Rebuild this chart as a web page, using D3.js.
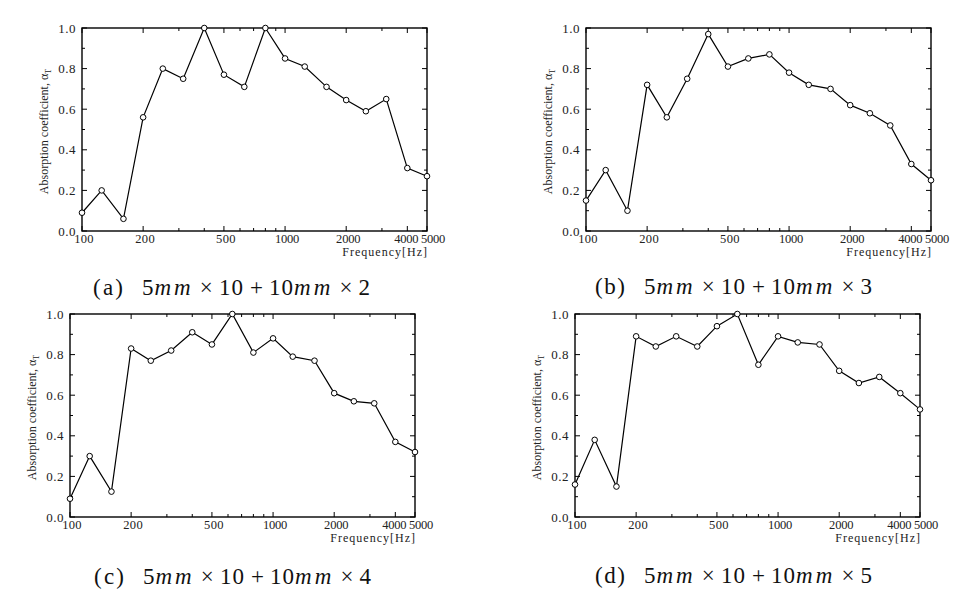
<!DOCTYPE html>
<html>
<head>
<meta charset="utf-8">
<script src="https://cdn.jsdelivr.net/npm/d3@7"></script>
<style>
  body { margin: 0; background: #fff; }
  svg { display: block; }
</style>
</head>
<body>
<script>
'use strict'

// one-third octave band centre frequencies
let freqs = [100, 125, 160, 200, 250, 315, 400, 500, 630, 800, 1000, 1250, 1600, 2000, 2500, 3150, 4000, 5000]

let seriesA = [0.09, 0.20, 0.06, 0.56, 0.80, 0.75, 1.00, 0.77, 0.71, 1.00, 0.85, 0.81, 0.71, 0.645, 0.59, 0.65, 0.31, 0.27]
let seriesB = [0.15, 0.30, 0.10, 0.72, 0.56, 0.75, 0.97, 0.81, 0.85, 0.87, 0.78, 0.72, 0.70, 0.62, 0.58, 0.52, 0.33, 0.25]
let seriesC = [0.09, 0.30, 0.125, 0.83, 0.77, 0.82, 0.91, 0.85, 1.00, 0.81, 0.88, 0.79, 0.77, 0.61, 0.57, 0.56, 0.37, 0.32]
let seriesD = [0.16, 0.38, 0.15, 0.89, 0.84, 0.89, 0.84, 0.94, 1.00, 0.75, 0.89, 0.86, 0.85, 0.72, 0.66, 0.69, 0.61, 0.53]

let panelLetters = ['(a)', '(b)', '(c)', '(d)']
let layerCounts = ['2', '3', '4', '5']

let xTickLabels = [100, 200, 500, 1000, 2000, 4000, 5000]
let xMinorTicks = [100, 200, 300, 400, 500, 600, 700, 800, 900, 1000, 2000, 3000, 4000, 5000]
let yTickLabels = [0, 0.2, 0.4, 0.6, 0.8, 1.0]
let yMinorTicks = [0, 0.1, 0.2, 0.3, 0.4, 0.5, 0.6, 0.7, 0.8, 0.9, 1.0]

let width = 966,
    height = 589,
    plotW = 345,
    plotH = 203,
    serif = '"Liberation Serif", "DejaVu Serif", serif'

let panels = [
    {data: seriesA, left: 82, top: 28, capX: 93, capY: 295},
    {data: seriesB, left: 586, top: 28, capX: 595, capY: 294},
    {data: seriesC, left: 70, top: 314, capX: 94, capY: 584},
    {data: seriesD, left: 575, top: 314, capX: 595, capY: 583}
]

let svg = d3.select('body').append('svg')
    .attr('width', width)
    .attr('height', height)

svg.append('rect')
    .attr('width', width)
    .attr('height', height)
    .attr('fill', '#fff')

let x = d3.scaleLog().domain([100, 5000]).range([0, plotW])
let y = d3.scaleLinear().domain([0, 1]).range([plotH, 0])

panels.forEach(function(p, k) {
    let g = svg.append('g')
        .attr('transform', 'translate(' + p.left + ',' + p.top + ')')

    // inward ticks on all four sides
    let tickG = g.append('g')
        .attr('stroke', '#000')
        .attr('stroke-width', 1)

    yMinorTicks.forEach(function(v, i) {
        let len = (i % 2 === 0) ? 5 : 3
        tickG.append('line').attr('x1', 0).attr('x2', len).attr('y1', y(v)).attr('y2', y(v))
        tickG.append('line').attr('x1', plotW).attr('x2', plotW - len).attr('y1', y(v)).attr('y2', y(v))
    })
    xMinorTicks.forEach(function(v) {
        let len = xTickLabels.indexOf(v) >= 0 ? 5 : 3
        tickG.append('line').attr('x1', x(v)).attr('x2', x(v)).attr('y1', plotH).attr('y2', plotH - len)
        tickG.append('line').attr('x1', x(v)).attr('x2', x(v)).attr('y1', 0).attr('y2', len)
    })

    g.append('rect')
        .attr('width', plotW)
        .attr('height', plotH)
        .attr('fill', 'none')
        .attr('stroke', '#000')
        .attr('stroke-width', 1.4)

    // tick labels
    g.selectAll('.ylab').data(yTickLabels).enter()
        .append('text')
        .attr('class', 'ylab')
        .attr('x', -6)
        .attr('y', function(d) { return y(d) + 4.5 })
        .attr('text-anchor', 'end')
        .attr('font-family', serif)
        .attr('font-size', 13)
        .attr('letter-spacing', 0.5)
        .attr('fill', '#222')
        .text(function(d) { return d.toFixed(1) })

    g.selectAll('.xlab').data(xTickLabels).enter()
        .append('text')
        .attr('class', 'xlab')
        .attr('x', function(d) { return x(d) + (d === 4000 ? -1 : d === 5000 ? 6 : 2) })
        .attr('y', plotH + 12)
        .attr('text-anchor', 'middle')
        .attr('font-family', serif)
        .attr('font-size', 12.5)
        .attr('letter-spacing', d => d >= 1000 ? -0.2 : 0.3)
        .attr('fill', '#222')
        .text(function(d) { return d })

    g.append('text')
        .attr('x', plotW + 1)
        .attr('y', plotH + 25)
        .attr('text-anchor', 'end')
        .attr('font-family', serif)
        .attr('font-size', 12)
        .attr('letter-spacing', 1)
        .attr('fill', '#222')
        .text('Frequency[Hz]')

    let yl = g.append('text')
        .attr('transform', 'translate(-34,' + (plotH / 2 + 2) + ') rotate(-90)')
        .attr('text-anchor', 'middle')
        .attr('font-family', serif)
        .attr('font-size', 12)
        .attr('fill', '#222')
    yl.append('tspan').text('Absorption coefficient, α')
    yl.append('tspan').attr('font-size', 8).attr('dy', 3).text('T')

    // data line
    let pts = freqs.map(function(f, i) { return [f, p.data[i]] })
    let line = d3.line()
        .x(function(d) { return x(d[0]) })
        .y(function(d) { return y(d[1]) })

    g.append('path')
        .datum(pts)
        .attr('d', line)
        .attr('fill', 'none')
        .attr('stroke', '#000')
        .attr('stroke-width', 1.2)

    g.selectAll('circle').data(pts).enter()
        .append('circle')
        .attr('cx', function(d) { return x(d[0]) })
        .attr('cy', function(d) { return y(d[1]) })
        .attr('r', 2.8)
        .attr('fill', '#fff')
        .attr('stroke', '#000')
        .attr('stroke-width', 1)

    // caption
    svg.append('text')
        .attr('x', p.capX)
        .attr('y', p.capY)
        .attr('font-family', serif)
        .attr('font-size', 23)
        .attr('textLength', 30)
        .attr('lengthAdjust', 'spacing')
        .attr('fill', '#111')
        .text(panelLetters[k])

    let cap = svg.append('text')
        .attr('x', p.capX + 49)
        .attr('y', p.capY)
        .attr('font-family', serif)
        .attr('font-size', 23)
        .attr('fill', '#111')
    let parts = [
        {t: '5', it: false, gap: false, ls: 1},
        {t: 'mm', it: true, gap: false, ls: 3},
        {t: '×', it: false, gap: true, ls: 0},
        {t: '10', it: false, gap: true, ls: 1},
        {t: '+', it: false, gap: true, ls: 0},
        {t: '10', it: false, gap: true, ls: 1},
        {t: 'mm', it: true, gap: false, ls: 3},
        {t: '×', it: false, gap: true, ls: 0},
        {t: layerCounts[k], it: false, gap: true, ls: 0}
    ]
    let spans = parts.map(function(s) {
        return cap.append('tspan')
            .attr('font-style', s.it ? 'italic' : 'normal')
            .attr('letter-spacing', s.ls)
            .text(s.t)
    })
    let natural = cap.node().getComputedTextLength()
    let gap = Math.max(0, (228 - natural) / 6)
    spans.forEach(function(sp, i) {
        if (parts[i].gap) sp.attr('dx', gap)
    })
})
</script>
</body>
</html>
